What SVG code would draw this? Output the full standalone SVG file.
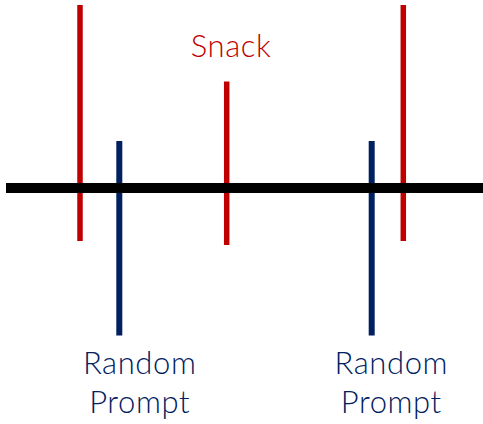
<svg xmlns="http://www.w3.org/2000/svg" width="483" height="424" viewBox="0 0 483 424">
  <style>
    .axis { stroke: #000000; stroke-width: 10; }
    .snack { stroke: #C00000; stroke-width: 5.5; }
    .prompt { stroke: #002060; stroke-width: 6; }
    .lbl { font-family: Lato, "Open Sans", sans-serif; font-size: 31px; font-weight: 300; letter-spacing: 0.6px; text-anchor: middle; }
    .red { fill: #C00000; }
    .blue { fill: #002060; }
  </style>
  <rect width="483" height="424" fill="#ffffff"/>
  <g id="connectors">
    <line class="snack" x1="80" y1="5" x2="80" y2="241"/>
    <line class="snack" x1="226.7" y1="81.5" x2="226.7" y2="245"/>
    <line class="snack" x1="403.3" y1="5" x2="403.3" y2="241"/>
    <line class="prompt" x1="119.3" y1="141" x2="119.3" y2="335.5"/>
    <line class="prompt" x1="371.7" y1="141" x2="371.7" y2="335.5"/>
    <line class="axis" x1="6" y1="188" x2="483" y2="188"/>
  </g>
  <g id="snack-label">
    <text class="lbl red" x="231" y="56.5">Snack</text>
  </g>
  <g id="prompt-label-1">
    <text class="lbl blue" x="139.7" y="374">Random</text>
    <text class="lbl blue" x="139.7" y="413.3">Prompt</text>
  </g>
  <g id="prompt-label-2">
    <text class="lbl blue" x="391.3" y="374">Random</text>
    <text class="lbl blue" x="391.3" y="413.3">Prompt</text>
  </g>
</svg>
